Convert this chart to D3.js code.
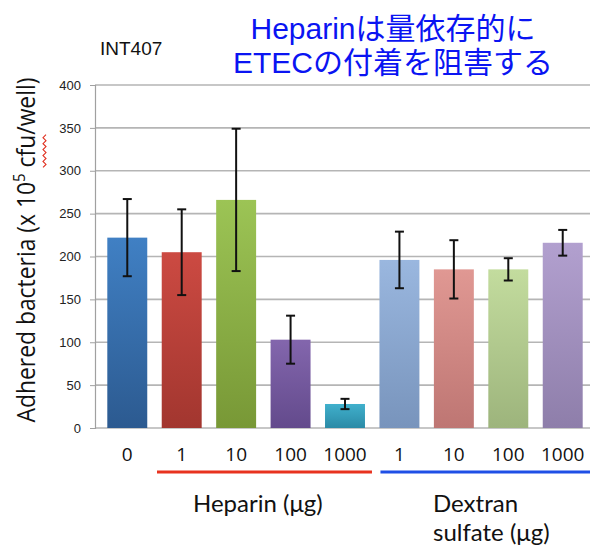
<!DOCTYPE html>
<html>
<head>
<meta charset="utf-8">
<script src="https://cdn.jsdelivr.net/npm/d3@7"></script>
<style>
  html, body { margin: 0; padding: 0; background: #fff; }
  svg { display: block; }
</style>
</head>
<body>
<svg id="chart" width="590" height="547"></svg>
<script>
// ---- data ----
const categories = ["0", "1", "10", "100", "1000", "1", "10", "100", "1000"];
const means      = [222, 205, 266, 103, 28, 196, 185, 185, 216];
const errors     = [45, 50, 83, 28, 6, 33, 34, 13, 15];
const colorsTop    = ["#4080c4", "#cc4a42", "#9cc455", "#8366ad", "#40b0cc", "#9ab7df", "#e09893", "#c3dc9e", "#b2a0cf"];
const colorsBottom = ["#2c5a90", "#a2362f", "#789836", "#634a8c", "#2b8aa6", "#7894bc", "#be7673", "#9db47c", "#8e7eaa"];
const yTicks = [0, 50, 100, 150, 200, 250, 300, 350, 400];
const groupLabels = ["Heparin (μg)", "Dextran", "sulfate (μg)"];
const titleLines = ["Heparinは量依存的に", "ETECの付着を阻害する"];
const subtitle = "INT407";

const svg = d3.select("#chart");
const x = d3.scaleBand().domain(d3.range(categories.length)).range([95, 595])
  .paddingInner(0.266).paddingOuter(0.226);
const y = d3.scaleLinear().domain([0, 400]).range([428, 85]);

// gradients
const defs = svg.append("defs");
means.forEach((m, i) => {
  const g = defs.append("linearGradient").attr("id", "g" + i)
    .attr("x1", 0).attr("y1", 0).attr("x2", 0).attr("y2", 1);
  g.append("stop").attr("offset", "0%").attr("stop-color", colorsTop[i]);
  g.append("stop").attr("offset", "100%").attr("stop-color", colorsBottom[i]);
});

// gridlines
svg.append("g").selectAll("line").data(yTicks).join("line")
  .attr("x1", 95).attr("x2", 590)
  .attr("y1", d => y(d)).attr("y2", d => y(d))
  .attr("stroke", "#b5b5b5").attr("stroke-width", 1.6);

// y axis
const yAxis = d3.axisLeft(y).tickValues(yTicks).tickSize(5).tickPadding(9);
const ya = svg.append("g").attr("transform", "translate(95,0)").call(yAxis);
ya.select(".domain").attr("stroke", "#a0a0a0").attr("stroke-width", 1.2);
ya.selectAll(".tick line").attr("stroke", "#a0a0a0");
ya.selectAll(".tick text").attr("font-family", "Liberation Sans, Arial, sans-serif")
  .attr("font-size", 13).attr("fill", "#222");

// bars
svg.append("g").selectAll("rect").data(means).join("rect")
  .attr("x", (d, i) => x(i)).attr("width", x.bandwidth())
  .attr("y", d => y(d)).attr("height", d => y(0) - y(d))
  .attr("fill", (d, i) => `url(#g${i})`);

// error bars
const eb = svg.append("g").attr("stroke", "#111").attr("stroke-width", 2);
means.forEach((m, i) => {
  const cx = x(i) + x.bandwidth() / 2;
  const hi = y(m + errors[i]), lo = y(m - errors[i]);
  eb.append("line").attr("x1", cx).attr("x2", cx).attr("y1", hi).attr("y2", lo);
  eb.append("line").attr("x1", cx - 4.5).attr("x2", cx + 4.5).attr("y1", hi).attr("y2", hi);
  eb.append("line").attr("x1", cx - 4.5).attr("x2", cx + 4.5).attr("y1", lo).attr("y2", lo);
});

// x labels
svg.append("g").selectAll("text").data(categories).join("text")
  .attr("x", (d, i) => x(i) + x.bandwidth() / 2).attr("y", 461)
  .attr("text-anchor", "middle")
  .attr("font-family", "Open Sans, sans-serif").attr("font-size", 19).attr("fill", "#111")
  .text(d => d);

// group underlines
svg.append("line").attr("x1", 157).attr("x2", x(4) + x.bandwidth() + 7).attr("y1", 472).attr("y2", 472)
  .attr("stroke", "#e8321f").attr("stroke-width", 3);
svg.append("line").attr("x1", x(5) + 1).attr("x2", 590).attr("y1", 472).attr("y2", 472)
  .attr("stroke", "#1f4fe6").attr("stroke-width", 3);

const lab = { "font-family": "Lato, sans-serif", "font-size": 24, "fill": "#111" };
function styl(sel, o) { Object.entries(o).forEach(([k, v]) => sel.attr(k, v)); return sel; }
styl(svg.append("text").attr("x", 193).attr("y", 512).text(groupLabels[0]), lab);
styl(svg.append("text").attr("x", 433).attr("y", 512).text(groupLabels[1]), lab);
styl(svg.append("text").attr("x", 433).attr("y", 541).text(groupLabels[2]), lab);

// y axis label (rotated), with the spell-check squiggle under "cfu"
const SX = 0.88;
const ylg = svg.append("g").attr("transform", "translate(35,250) rotate(-90)");
const yl = ylg.append("text").attr("transform", `scale(${SX},1)`)
  .attr("text-anchor", "middle")
  .attr("font-family", "Open Sans, sans-serif").attr("font-size", 26).attr("fill", "#111");
yl.append("tspan").text("Adhered bacteria (x 10");
yl.append("tspan").attr("font-size", 17).attr("dy", -10).text("5");
const t3 = yl.append("tspan").attr("dy", 10).text(" cfu/well)");
const squiggle = ylg.append("path").attr("fill", "none").attr("stroke", "#e03020").attr("stroke-width", 1.1);

function drawSquiggle() {
  // locate "cfu" from the rendered text box: it follows the leading space of the last tspan
  const bb = yl.node().getBBox();
  const total = yl.node().getComputedTextLength();
  const left = bb.x;                                  // start of the whole label (unscaled)
  const node = yl.node();
  const full = node.textContent;
  const ci = full.indexOf("cfu");
  const pre = node.getSubStringLength(0, ci);
  const len = node.getSubStringLength(ci, 3);
  const s0 = (left + pre) * SX, e0 = (left + pre + len) * SX;
  const p = d3.path();
  const nz = Math.max(2, Math.round((e0 - s0) / 3));
  p.moveTo(s0, 8);
  for (let k = 1; k <= nz; k++) p.lineTo(s0 + k * (e0 - s0) / nz, k % 2 ? 11 : 8);
  squiggle.attr("d", p.toString());
}
drawSquiggle();
if (document.fonts && document.fonts.ready) document.fonts.ready.then(drawSquiggle);

// subtitle
svg.append("text").attr("x", 100).attr("y", 55)
  .attr("font-family", "Liberation Sans, Arial, sans-serif").attr("font-size", 19).attr("fill", "#111")
  .text(subtitle);

// title
svg.append("g").selectAll("text").data(titleLines).join("text")
  .attr("x", 393).attr("y", (d, i) => 39 + i * 34)
  .attr("text-anchor", "middle")
  .attr("font-family", "Liberation Sans, Noto Sans CJK JP, sans-serif")
  .attr("font-size", 30).attr("fill", "#0a14f2")
  .text(d => d);
</script>
</body>
</html>
